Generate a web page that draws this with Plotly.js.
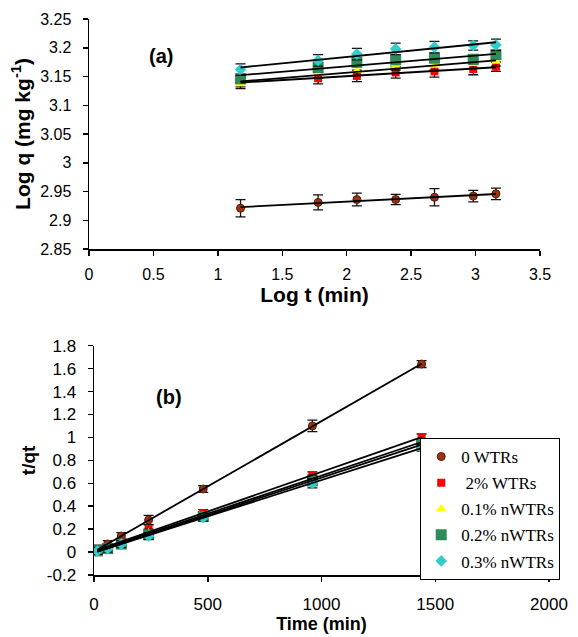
<!DOCTYPE html>
<html>
<head>
<meta charset="utf-8">
<script src="https://cdn.plot.ly/plotly-3.0.1.min.js"></script>
<style>html,body{margin:0;padding:0;background:#fff;}#chart{width:578px;height:637px;}</style>
</head>
<body>
<div id="chart"></div>
<script>
// ---------- data ----------
var seriesNames = ["0 WTRs", " 2% WTRs", "0.1% nWTRs", "0.2% nWTRs", "0.3% nWTRs"];

// panel (a): log t vs log q
var logT = [1.176, 1.778, 2.079, 2.380, 2.681, 2.982, 3.158];
var logQ_0WTR  = [2.921, 2.931, 2.936, 2.936, 2.940, 2.942, 2.946];
var logQ_2WTR  = [3.140, 3.147, 3.151, 3.157, 3.159, 3.163, 3.167];
var logQ_01n   = [3.137, 3.155, 3.160, 3.169, 3.169, 3.172, 3.176];
var logQ_02n   = [3.146, 3.166, 3.175, 3.179, 3.182, 3.180, 3.188];
var logQ_03n   = [3.162, 3.178, 3.189, 3.198, 3.201, 3.204, 3.205];
var errA_0WTR  = [0.015, 0.013, 0.011, 0.009, 0.015, 0.010, 0.010];
var errA_2WTR  = [0.008, 0.010, 0.010, 0.010, 0.010, 0.010, 0.008];
var errA_01n   = [0.008, 0.008, 0.008, 0.008, 0.008, 0.008, 0.008];
var errA_02n   = [0.008, 0.008, 0.008, 0.008, 0.008, 0.008, 0.008];
var errA_03n   = [0.010, 0.010, 0.010, 0.010, 0.010, 0.008, 0.010];

// panel (b): time vs t/qt
var timeMin = [15, 60, 120, 240, 480, 960, 1440];
var tq_0WTR = [0.02, 0.07, 0.14, 0.28, 0.55, 1.10, 1.64];
var tq_2WTR = [0.01, 0.04, 0.09, 0.20, 0.34, 0.67, 1.00];
var tq_01n  = [0.01, 0.04, 0.08, 0.17, 0.32, 0.64, 0.96];
var tq_02n  = [0.01, 0.03, 0.07, 0.15, 0.31, 0.62, 0.94];
var tq_03n  = [0.01, 0.03, 0.07, 0.14, 0.30, 0.60, 0.91];
var errB_0WTR = [0.04, 0.03, 0.03, 0.04, 0.03, 0.05, 0.03];
var errB_2WTR = [0.03, 0.03, 0.03, 0.04, 0.03, 0.03, 0.03];
var errB_01n  = [0.03, 0.03, 0.03, 0.03, 0.03, 0.03, 0.03];
var errB_02n  = [0.03, 0.03, 0.03, 0.04, 0.03, 0.03, 0.03];
var errB_03n  = [0.03, 0.03, 0.03, 0.03, 0.03, 0.04, 0.03];

// tick labels
var aXTicks = [0, 0.5, 1, 1.5, 2, 2.5, 3, 3.5];
var aXText  = ["0", "0.5", "1", "1.5", "2", "2.5", "3", "3.5"];
var aYTicks = [2.85, 2.9, 2.95, 3, 3.05, 3.1, 3.15, 3.2, 3.25];
var aYText  = ["2.85", "2.9", "2.95", "3", "3.05", "3.1", "3.15", "3.2", "3.25"];
var bXTicks = [0, 500, 1000, 1500, 2000];
var bXText  = ["0", "500", "1000", "1500", "2000"];
var bYTicks = [-0.2, 0, 0.2, 0.4, 0.6, 0.8, 1, 1.2, 1.4, 1.6, 1.8];
var bYText  = ["-0.2", "0", "0.2", "0.4", "0.6", "0.8", "1", "1.2", "1.4", "1.6", "1.8"];

// ---------- styles ----------
var markerStyles = [
  {symbol: "circle", color: "#993311", size: 8, line: {color: "#5a1a05", width: 1}},
  {symbol: "square", color: "#ff0000", size: 8, line: {width: 0}},
  {symbol: "triangle-up", color: "#ffff00", size: 9, line: {width: 0}},
  {symbol: "square", color: "#2e8b57", size: 11, line: {width: 0}},
  {symbol: "diamond", color: "#33cccc", size: 9, line: {width: 0}}
];

function fitLine(xs, ys) {
  var n = xs.length, sx = 0, sy = 0, sxx = 0, sxy = 0;
  for (var i = 0; i < n; i++) { sx += xs[i]; sy += ys[i]; sxx += xs[i]*xs[i]; sxy += xs[i]*ys[i]; }
  var b = (n*sxy - sx*sy) / (n*sxx - sx*sx);
  var a = (sy - b*sx) / n;
  var x0 = xs[0], x1 = xs[n-1];
  return {x: [x0, x1], y: [a + b*x0, a + b*x1]};
}

var aSeries = [logQ_0WTR, logQ_2WTR, logQ_01n, logQ_02n, logQ_03n];
var aErr = [errA_0WTR, errA_2WTR, errA_01n, errA_02n, errA_03n];
var bSeries = [tq_0WTR, tq_2WTR, tq_01n, tq_02n, tq_03n];
var bErr = [errB_0WTR, errB_2WTR, errB_01n, errB_02n, errB_03n];

var traces = [];
for (var i = 0; i < 5; i++) {
  traces.push({
    x: logT, y: aSeries[i], type: "scatter", mode: "markers",
    marker: markerStyles[i], xaxis: "x", yaxis: "y", showlegend: false,
    error_y: {type: "data", array: aErr[i], color: "#111", thickness: 1.3, width: 5},
    hoverinfo: "x+y"
  });
}
for (var i = 0; i < 5; i++) {
  var f = fitLine(logT, aSeries[i]);
  traces.push({x: f.x, y: f.y, type: "scatter", mode: "lines", line: {color: "#000", width: 1.8},
    xaxis: "x", yaxis: "y", showlegend: false, hoverinfo: "skip"});
}
for (var i = 0; i < 5; i++) {
  traces.push({
    x: timeMin, y: bSeries[i], type: "scatter", mode: "markers", name: seriesNames[i],
    marker: markerStyles[i], xaxis: "x2", yaxis: "y2", showlegend: true, legendgroup: "g" + i,
    error_y: {type: "data", array: bErr[i], color: "#111", thickness: 1.3, width: 5},
    hoverinfo: "x+y"
  });
}
for (var i = 0; i < 5; i++) {
  var f = fitLine(timeMin, bSeries[i]);
  traces.push({x: f.x, y: f.y, type: "scatter", mode: "lines", line: {color: "#000", width: 1.8},
    xaxis: "x2", yaxis: "y2", showlegend: false, hoverinfo: "skip"});
}

var tickFont = {family: "Liberation Sans, Arial, sans-serif", size: 16, color: "#000"};
var tickFontB = {family: "Liberation Sans, Arial, sans-serif", size: 17, color: "#000"};
var axisCommon = {
  showgrid: false, zeroline: false, showline: true, linecolor: "#000", linewidth: 1.5,
  ticks: "outside", ticklen: 5, tickwidth: 1.5, tickcolor: "#000", mirror: false,
  tickmode: "array"
};

function ax(extra) { var o = {}; for (var k in axisCommon) o[k] = axisCommon[k]; for (var k in extra) o[k] = extra[k]; return o; }

var layout = {
  width: 578, height: 637, autosize: false,
  margin: {l: 0, r: 0, t: 0, b: 0},
  paper_bgcolor: "#fff", plot_bgcolor: "#fff",
  showlegend: true,
  legend: {
    x: 0.727, y: 0.3124, xanchor: "left", yanchor: "top",
    bordercolor: "#000", borderwidth: 1, bgcolor: "#fff",
    font: {family: "Liberation Serif, Times New Roman, serif", size: 17, color: "#000"},
    tracegroupgap: 1
  },
  xaxis: ax({domain: [89/578, 540/578], range: [0, 3.5], anchor: "y",
    tickvals: aXTicks, ticktext: aXText, tickfont: tickFont, ticklabelstandoff: 5,
    title: {text: "<b>Log t (min)</b>", font: {family: "Liberation Sans, Arial, sans-serif", size: 21, color: "#000"}, standoff: 5}}),
  yaxis: ax({domain: [(637-249)/637, (637-19)/637], range: [2.85, 3.25], anchor: "x",
    tickvals: aYTicks, ticktext: aYText, tickfont: tickFont, ticklabelstandoff: 8,
    title: {text: "<b>Log q (mg kg<sup>-1</sup>)</b>", font: {family: "Liberation Sans, Arial, sans-serif", size: 21, color: "#000"}, standoff: 4}}),
  xaxis2: ax({domain: [94/578, 549/578], range: [0, 2000], anchor: "y2",
    tickvals: bXTicks, ticktext: bXText, tickfont: tickFontB, ticklabelstandoff: 8,
    title: {text: "<b>Time (min)</b>", font: {family: "Liberation Sans, Arial, sans-serif", size: 18, color: "#000"}, standoff: 3}}),
  yaxis2: ax({domain: [(637-575)/637, (637-345.7)/637], range: [-0.2, 1.8], anchor: "x2",
    tickvals: bYTicks, ticktext: bYText, tickfont: tickFontB, ticklabelstandoff: 8,
    title: {text: "<b>t/qt</b>", font: {family: "Liberation Sans, Arial, sans-serif", size: 19, color: "#000"}, standoff: 6}}),
  annotations: [
    {text: "<b>(a)</b>", xref: "x", yref: "y", x: 0.56, y: 3.186, showarrow: false,
     font: {family: "Liberation Sans, Arial, sans-serif", size: 20, color: "#000"}},
    {text: "<b>(b)</b>", xref: "x2", yref: "y2", x: 330, y: 1.353, showarrow: false,
     font: {family: "Liberation Sans, Arial, sans-serif", size: 20, color: "#000"}}
  ]
};

Plotly.newPlot("chart", traces, layout, {displayModeBar: false, staticPlot: true});
</script>
</body>
</html>
